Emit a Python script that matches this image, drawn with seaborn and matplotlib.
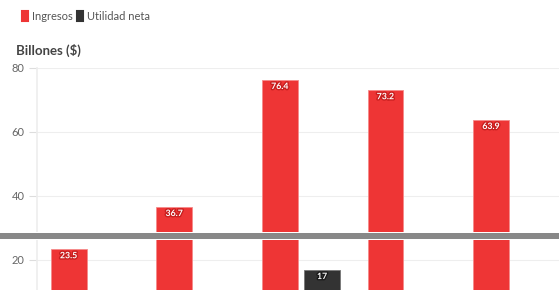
import numpy as np
import pandas as pd
import matplotlib.pyplot as plt
import matplotlib.patheffects as pe
from matplotlib.patches import Patch, Rectangle
import seaborn as sns

# Data (x labels fall below the visible crop; hidden net-income values are estimates)
years = ['2019', '2020', '2021', '2022', '2023']
ingresos = [23.5, 36.7, 76.4, 73.2, 63.9]
utilidad = [2.1, 4.5, 17.0, 6.1, 5.6]
series_names = ['Ingresos', 'Utilidad neta']
colors = ['#EE3535', '#333333']
label_stroke = ['#C81E1E', '#1A1A1A']

df = pd.DataFrame({
    'year': years * 2,
    'value': ingresos + utilidad,
    'serie': [series_names[0]] * len(years) + [series_names[1]] * len(years),
})

sns.set_theme(style='white')
plt.rcParams['font.family'] = ['Lato', 'DejaVu Sans']

fig = plt.figure(figsize=(5.59, 2.90), dpi=100)
ax = fig.add_axes([37 / 559, -34 / 290, 528 / 559, 256 / 290])

sns.barplot(data=df, x='year', y='value', hue='serie', palette=colors,
            width=0.8, gap=0.15, legend=False, ax=ax, saturation=1)

edge = ['#F58A8A', '#777777']
for cont, ec, sc in zip(ax.containers, edge, label_stroke):
    for bar in cont:
        bar.set_edgecolor(ec)
        bar.set_linewidth(0.6)
        h = bar.get_height()
        lab = f'{h:g}' if h != int(h) else f'{int(h)}'
        t = ax.annotate(lab, (bar.get_x() + bar.get_width() / 2, h),
                        xytext=(0, -5), textcoords='offset points',
                        ha='center', va='center', fontsize=6.3, fontweight='bold',
                        color='white')
        t.set_path_effects([pe.withStroke(linewidth=2, foreground=sc)])

ax.set_ylim(0, 80)
ax.set_yticks([0, 20, 40, 60, 80])
ax.set_xlim(-0.5, len(years) - 0.5)
ax.yaxis.grid(True, color='#EEEEEE', linewidth=0.8)
ax.set_axisbelow(True)
for s in ['top', 'right', 'bottom']:
    ax.spines[s].set_visible(False)
ax.spines['left'].set_color('#EEEEEE')
ax.tick_params(axis='y', left=True, length=6, width=0.8, color='#DDDDDD',
               labelsize=8, labelcolor='#666666', pad=3)
ax.tick_params(axis='x', labelsize=8, labelcolor='#666666')
ax.set_xlabel('')
ax.set_ylabel('')

fig.text(16 / 559, 1 - 50 / 290, 'Billones ($)', fontsize=9.5, fontweight='bold',
         color='#444444', va='center', ha='left')

handles = [Patch(facecolor=c, edgecolor=c, joinstyle='round', linewidth=1.5) for c in colors]
fig.legend(handles, series_names, loc='center left',
           bbox_to_anchor=(16 / 559, 1 - 16 / 290), ncol=2, frameon=False,
           handlelength=0.55, handleheight=1.0, handletextpad=0.35,
           columnspacing=0.45, fontsize=8, labelcolor='#555555', borderpad=0)

# grey divider band across the chart
fig.patches.append(Rectangle((0, 1 - 240 / 290), 1, 8 / 290, transform=fig.transFigure,
                             facecolor='#FFFFFF', edgecolor='none', zorder=10))
fig.patches.append(Rectangle((0, 1 - 239 / 290), 1, 6 / 290, transform=fig.transFigure,
                             facecolor='#888888', edgecolor='none', zorder=11))

fig.savefig('out.png', dpi=100)
